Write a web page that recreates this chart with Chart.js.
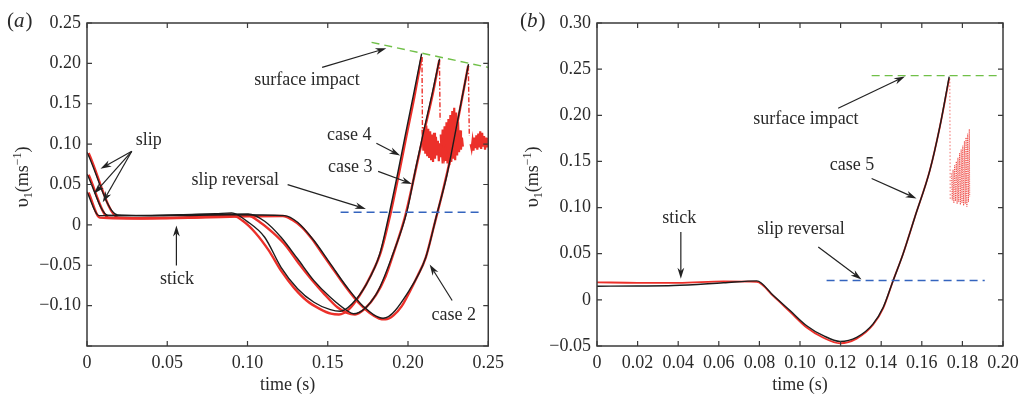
<!DOCTYPE html>
<html>
<head>
<meta charset="utf-8">
<script src="https://cdn.jsdelivr.net/npm/chart.js@4.4.1/dist/chart.umd.min.js"></script>
<style>
  body { margin: 0; background: #fff; }
  #wrap { position: relative; width: 1027px; height: 399px; }
  canvas { position: absolute; top: 0; }
  #chart-a { left: 0; }
  #chart-b { left: 510px; }
</style>
</head>
<body>
<div id="wrap">
  <canvas id="chart-a" width="510" height="399"></canvas>
  <canvas id="chart-b" width="517" height="399"></canvas>
</div>
<script>
// ---- panel (a): model (black) and measurement (red) for cases 2, 3, 4
let case4T = [0, 0.0074, 0.03, 0.06, 0.08, 0.0902, 0.1, 0.1107, 0.1209, 0.1312, 0.1414, 0.1516, 0.1578, 0.165, 0.1742, 0.1824, 0.1885, 0.1935, 0.1985, 0.2035, 0.2085];
let case4V = [0.041, 0.0115, 0.0115, 0.0125, 0.0138, 0.0149, 0.004, -0.0153, -0.0525, -0.079, -0.0958, -0.105, -0.107, -0.098, -0.073, -0.036, 0.0156, 0.063, 0.113, 0.162, 0.212];
let case3T = [0, 0.013, 0.04, 0.07, 0.1004, 0.1107, 0.1209, 0.1312, 0.1414, 0.1516, 0.1619, 0.166, 0.1803, 0.1906, 0.1995, 0.205, 0.21, 0.215, 0.2197];
let case3V = [0.063, 0.012, 0.0115, 0.0128, 0.0135, 0.0045, -0.0153, -0.042, -0.069, -0.0896, -0.106, -0.11, -0.0854, -0.036, 0.018, 0.072, 0.118, 0.162, 0.206];
let case2T = [0, 0.019, 0.05, 0.09, 0.123, 0.1312, 0.1414, 0.1516, 0.1619, 0.1722, 0.1845, 0.2008, 0.2111, 0.2183, 0.2244, 0.231, 0.2377];
let case2V = [0.09, 0.0124, 0.0115, 0.0125, 0.0115, 0.0032, -0.0194, -0.048, -0.077, -0.101, -0.1156, -0.081, -0.04, 0.0156, 0.063, 0.13, 0.199];

let red4T = [0.001, 0.008, 0.02, 0.04, 0.06, 0.08, 0.089, 0.097, 0.105, 0.113, 0.121, 0.129, 0.137, 0.145, 0.152, 0.157, 0.163, 0.17, 0.177, 0.183, 0.189, 0.194, 0.199, 0.204, 0.2085];
let red4V = [0.04, 0.009, 0.008, 0.0085, 0.009, 0.011, 0.013, 0.005, -0.01, -0.031, -0.057, -0.078, -0.094, -0.104, -0.11, -0.111, -0.105, -0.087, -0.062, -0.034, 0.013, 0.06, 0.11, 0.159, 0.208];
let red3T = [0.001, 0.0135, 0.03, 0.06, 0.09, 0.1, 0.108, 0.116, 0.124, 0.132, 0.14, 0.148, 0.156, 0.162, 0.167, 0.173, 0.18, 0.186, 0.192, 0.198, 0.204, 0.21, 0.2155, 0.2195];
let red3V = [0.062, 0.009, 0.008, 0.009, 0.0115, 0.012, 0.003, -0.01, -0.026, -0.048, -0.068, -0.086, -0.102, -0.109, -0.111, -0.104, -0.087, -0.064, -0.029, 0.009, 0.061, 0.115, 0.163, 0.204];
let red2T = [0.001, 0.0195, 0.04, 0.07, 0.1, 0.122, 0.128, 0.134, 0.14, 0.146, 0.152, 0.158, 0.164, 0.17, 0.176, 0.182, 0.186, 0.191, 0.196, 0.201, 0.206, 0.211, 0.216, 0.221, 0.226, 0.232, 0.2375];
let red2V = [0.089, 0.009, 0.008, 0.009, 0.0105, 0.011, 0.006, -0.003, -0.017, -0.034, -0.051, -0.068, -0.084, -0.098, -0.109, -0.116, -0.117, -0.112, -0.101, -0.083, -0.063, -0.041, -0.003, 0.036, 0.079, 0.139, 0.197];

// after impact: drops and noisy bursts of the measurement
let drop4T = [0.2087, 0.209];
let drop4V = [0.208, 0.118];
let drop3T = [0.2196, 0.22];
let drop3V = [0.204, 0.13];
let drop2T = [0.2376, 0.2382];
let drop2V = [0.197, 0.11];
let burst4T = [0.209, 0.2096, 0.2102, 0.2108, 0.2114, 0.212, 0.2126, 0.2132, 0.2138, 0.2144, 0.215, 0.2156, 0.2162, 0.2168, 0.2174, 0.218, 0.2186, 0.2192, 0.2198, 0.2204, 0.221, 0.2216, 0.2222, 0.2228, 0.2234, 0.224];
let burst4V = [0.118, 0.092, 0.121, 0.088, 0.123, 0.085, 0.119, 0.083, 0.116, 0.08, 0.112, 0.078, 0.114, 0.082, 0.109, 0.086, 0.104, 0.079, 0.101, 0.084, 0.098, 0.076, 0.095, 0.085, 0.093, 0.088];
let burst3T = [0.2204, 0.221, 0.2216, 0.2222, 0.2228, 0.2234, 0.224, 0.2246, 0.2252, 0.2258, 0.2264, 0.227, 0.2276, 0.2282, 0.2288, 0.2294, 0.23, 0.2306, 0.2312, 0.2318, 0.2324, 0.233, 0.2336, 0.2342];
let burst3V = [0.112, 0.088, 0.118, 0.082, 0.122, 0.079, 0.127, 0.076, 0.131, 0.074, 0.136, 0.078, 0.141, 0.082, 0.145, 0.08, 0.139, 0.086, 0.128, 0.09, 0.117, 0.093, 0.108, 0.097];
let burst2T = [0.239, 0.2396, 0.2402, 0.2408, 0.2414, 0.242, 0.2426, 0.2432, 0.2438, 0.2444, 0.245, 0.2456, 0.2462, 0.2468, 0.2474, 0.248, 0.2486, 0.2492, 0.2498];
let burst2V = [0.1, 0.094, 0.104, 0.092, 0.108, 0.095, 0.111, 0.093, 0.113, 0.096, 0.116, 0.094, 0.114, 0.097, 0.11, 0.093, 0.108, 0.096, 0.105];

let impactAT = [0.1773, 0.25];
let impactAV = [0.226, 0.195];
let reversalAT = [0.158, 0.2463];
let reversalAV = [0.0156, 0.0156];

let xTicksA = [0, 0.05, 0.1, 0.15, 0.2, 0.25];
let xLabelsA = ['0', '0.05', '0.10', '0.15', '0.20', '0.25'];
let yTicksA = [-0.15, -0.1, -0.05, 0, 0.05, 0.1, 0.15, 0.2, 0.25];
let yLabelsA = ['', '\u22120.10', '\u22120.05', '0', '0.05', '0.10', '0.15', '0.20', '0.25'];

// ---- panel (b): case 5
let case5T = [0, 0.02, 0.0377, 0.0623, 0.0787, 0.0869, 0.0951, 0.1033, 0.1115, 0.1197, 0.1279, 0.136, 0.141, 0.1459, 0.1508, 0.1566, 0.164, 0.1689, 0.1735];
let case5V = [0.0148, 0.015, 0.0155, 0.0185, 0.0206, 0.0047, -0.0116, -0.028, -0.0388, -0.045, -0.0406, -0.026, -0.008, 0.021, 0.05, 0.0898, 0.1406, 0.1876, 0.242];
let red5T = [0, 0.02, 0.04, 0.0623, 0.0787, 0.0869, 0.0951, 0.1033, 0.1115, 0.1197, 0.1279, 0.136, 0.141, 0.1459, 0.1508, 0.1566, 0.164, 0.1689, 0.1735];
let red5V = [0.019, 0.0185, 0.0185, 0.02, 0.0195, 0.004, -0.013, -0.03, -0.041, -0.047, -0.042, -0.027, -0.009, 0.021, 0.05, 0.0898, 0.1406, 0.1876, 0.24];
let drop5T = [0.1738, 0.174];
let drop5V = [0.24, 0.108];
let burst5T = [0.1746, 0.175, 0.1754, 0.1758, 0.1762, 0.1766, 0.177, 0.1774, 0.1778, 0.1782, 0.1786, 0.179, 0.1794, 0.1798, 0.1802, 0.1806, 0.181, 0.1814, 0.1818, 0.1822, 0.1826, 0.183, 0.1834, 0.1836];
let burst5V = [0.137, 0.108, 0.141, 0.105, 0.146, 0.107, 0.15, 0.104, 0.154, 0.106, 0.159, 0.103, 0.163, 0.105, 0.167, 0.102, 0.172, 0.104, 0.176, 0.101, 0.18, 0.106, 0.185, 0.112];

let impactBT = [0.1353, 0.1976];
let impactBV = [0.243, 0.243];
let reversalBT = [0.1131, 0.191];
let reversalBV = [0.021, 0.021];

let xTicksB = [0, 0.02, 0.04, 0.06, 0.08, 0.1, 0.12, 0.14, 0.16, 0.18, 0.2];
let xLabelsB = ['0', '0.02', '0.04', '0.06', '0.08', '0.10', '0.12', '0.14', '0.16', '0.18', '0.20'];
let yTicksB = [-0.05, 0, 0.05, 0.1, 0.15, 0.2, 0.25, 0.3];
let yLabelsB = ['\u22120.05', '0', '0.05', '0.10', '0.15', '0.20', '0.25', '0.30'];

// annotations: [text, t, v] and arrows [fromT, fromV, toT, toV]
let notesA = [['slip', 0.0385, 0.1043], ['surface impact', 0.1371, 0.1786], ['case 4', 0.1634, 0.1114],
  ['case 3', 0.164, 0.0713], ['slip reversal', 0.0924, 0.0557], ['stick', 0.0561, -0.0668], ['case 2', 0.2285, -0.1114]];
let arrowsA = [[0.0279, 0.0911, 0.0084, 0.0694], [0.0279, 0.0911, 0.0043, 0.0384], [0.0279, 0.0911, 0.0098, 0.028],
  [0.1465, 0.195, 0.1865, 0.2186], [0.1803, 0.101, 0.1951, 0.0858], [0.1814, 0.0663, 0.2025, 0.0507],
  [0.125, 0.0499, 0.1738, 0.0198], [0.0557, -0.0504, 0.0557, -0.0009], [0.2275, -0.0937, 0.2135, -0.0491]];
let notesB = [['surface impact', 0.1029, 0.1957], ['case 5', 0.1256, 0.146], ['stick', 0.0405, 0.088], ['slip reversal', 0.1005, 0.0761]];
let arrowsB = [[0.1188, 0.2076, 0.1517, 0.242], [0.1353, 0.1315, 0.1574, 0.1098], [0.0413, 0.0735, 0.0413, 0.0228], [0.109, 0.0572, 0.1303, 0.0221]];

const SERIF = '"Liberation Serif", "Times New Roman", serif';
const RED = 'rgb(236, 48, 42)';
Chart.defaults.font.family = SERIF;
Chart.defaults.font.size = 18;
Chart.defaults.color = '#2a2a2a';

function pts(ts, vs) {
    return ts.map((t, i) => ({ x: t, y: vs[i] }));
}
function model(ts, vs) {
    return { data: pts(ts, vs), borderColor: '#1c1c1c', borderWidth: 1.4, cubicInterpolationMode: 'monotone', order: 1 };
}
function measured(ts, vs, w) {
    return { data: pts(ts, vs), borderColor: RED, borderWidth: w, cubicInterpolationMode: 'monotone', order: 2 };
}
function noisy(ts, vs, w, dash, color) {
    return { data: pts(ts, vs), borderColor: color || RED, borderWidth: w, borderDash: dash, tension: 0, order: 2 };
}
function guide(ts, vs, color) {
    return { data: pts(ts, vs), borderColor: color, borderWidth: 1.4, borderDash: [8, 5], tension: 0, order: 0 };
}

function arrow(ctx, x0, y0, x1, y1) {
    const a = Math.atan2(y1 - y0, x1 - x0), L = 11, W = 3.4;
    ctx.beginPath();
    ctx.moveTo(x0, y0);
    ctx.lineTo(x1 - L * 0.7 * Math.cos(a), y1 - L * 0.7 * Math.sin(a));
    ctx.stroke();
    ctx.save();
    ctx.translate(x1, y1);
    ctx.rotate(a);
    ctx.beginPath();
    ctx.moveTo(0, 0);
    ctx.lineTo(-L, -W);
    ctx.lineTo(-L * 0.7, 0);
    ctx.lineTo(-L, W);
    ctx.closePath();
    ctx.fill();
    ctx.restore();
}

// frame with inward ticks, y title with sub/superscript, panel letter and annotations
function framePlugin(cfg) {
    return {
        id: 'frame',
        afterDraw(chart) {
            const ctx = chart.ctx, area = chart.chartArea;
            const xs = chart.scales.x, ys = chart.scales.y;
            ctx.save();
            ctx.strokeStyle = '#3a3a3a';
            ctx.lineWidth = 1.5;
            ctx.strokeRect(area.left, area.top, area.right - area.left, area.bottom - area.top);
            ctx.lineWidth = 1.2;
            ctx.beginPath();
            cfg.xTicks.forEach(v => {
                const px = xs.getPixelForValue(v);
                ctx.moveTo(px, area.bottom); ctx.lineTo(px, area.bottom - 5);
                ctx.moveTo(px, area.top); ctx.lineTo(px, area.top + 5);
            });
            cfg.yTicks.forEach(v => {
                const py = ys.getPixelForValue(v);
                ctx.moveTo(area.left, py); ctx.lineTo(area.left + 5, py);
                ctx.moveTo(area.right, py); ctx.lineTo(area.right - 5, py);
            });
            ctx.stroke();

            // y axis title: v_1 (m s^-1)
            ctx.fillStyle = '#2a2a2a';
            ctx.translate(22, 177);
            ctx.rotate(-Math.PI / 2);
            const parts = [['\u03c5', 19, 0], ['1', 12, 4], ['(ms', 18, 0], ['\u22121', 12, -7], [')', 18, 0]];
            let total = 0;
            parts.forEach(p => { ctx.font = p[1] + 'px ' + SERIF; total += ctx.measureText(p[0]).width; });
            let cx = -total / 2;
            ctx.textBaseline = 'alphabetic';
            parts.forEach(p => {
                ctx.font = p[1] + 'px ' + SERIF;
                ctx.fillText(p[0], cx, 6 + p[2]);
                cx += ctx.measureText(p[0]).width;
            });
            ctx.restore();

            // panel letter
            ctx.save();
            ctx.fillStyle = '#2a2a2a';
            ctx.textBaseline = 'alphabetic';
            let lx = cfg.labelX;
            ctx.font = '21px ' + SERIF;
            ctx.fillText('(', lx, 27); lx += ctx.measureText('(').width;
            ctx.font = 'italic 21px ' + SERIF;
            ctx.fillText(cfg.label, lx, 27); lx += ctx.measureText(cfg.label).width + 1;
            ctx.font = '21px ' + SERIF;
            ctx.fillText(')', lx, 27);

            // annotations
            ctx.font = '18px ' + SERIF;
            ctx.textAlign = 'center';
            ctx.textBaseline = 'middle';
            cfg.notes.forEach(n => ctx.fillText(n[0], xs.getPixelForValue(n[1]), ys.getPixelForValue(n[2])));
            ctx.strokeStyle = '#222';
            ctx.fillStyle = '#222';
            ctx.lineWidth = 1.2;
            cfg.arrows.forEach(a => arrow(ctx, xs.getPixelForValue(a[0]), ys.getPixelForValue(a[1]),
                xs.getPixelForValue(a[2]), ys.getPixelForValue(a[3])));
            ctx.restore();
        }
    };
}

function axes(xMin, xMax, xTicks, xLabels, yMin, yMax, yTicks, yLabels) {
    return {
        x: {
            type: 'linear', min: xMin, max: xMax,
            grid: { display: false, drawTicks: false },
            border: { display: false },
            afterBuildTicks: s => { s.ticks = xTicks.map(v => ({ value: v })); },
            afterFit: s => { s.height = 53; },
            ticks: { autoSkip: false, maxRotation: 0, padding: 6, callback: (v, i) => xLabels[i] },
            title: { display: true, text: 'time (s)', font: { size: 18 }, padding: { top: 0, bottom: 3 } }
        },
        y: {
            type: 'linear', min: yMin, max: yMax,
            grid: { display: false, drawTicks: false },
            border: { display: false },
            afterBuildTicks: s => { s.ticks = yTicks.map(v => ({ value: v })); },
            afterFit: s => { s.width = 87; },
            ticks: { autoSkip: false, padding: 6, callback: (v, i) => yLabels[i] }
        }
    };
}

const common = {
    responsive: false,
    animation: false,
    events: [],
    elements: { point: { radius: 0 } },
    plugins: { legend: { display: false }, tooltip: { enabled: false } }
};

var chartA = new Chart(document.getElementById('chart-a'), {
    type: 'line',
    data: {
        datasets: [
            guide(impactAT, impactAV, 'rgb(112, 192, 72)'),
            guide(reversalAT, reversalAV, 'rgb(52, 100, 190)'),
            model(case4T, case4V),
            model(case3T, case3V),
            model(case2T, case2V),
            measured(red4T, red4V, 2.4),
            measured(red3T, red3V, 2.4),
            measured(red2T, red2V, 2.4),
            noisy(drop4T, drop4V, 1.4, [5, 2, 1.5, 2]),
            noisy(drop3T, drop3V, 1.4, [5, 2, 1.5, 2]),
            noisy(drop2T, drop2V, 1.4, [5, 2, 1.5, 2]),
            noisy(burst4T, burst4V, 2.2, []),
            noisy(burst3T, burst3V, 2.2, []),
            noisy(burst2T, burst2V, 2.2, [])
        ]
    },
    options: Object.assign({}, common, {
        layout: { padding: { left: 0, right: 17, top: 23, bottom: 0 } },
        scales: axes(0, 0.25, xTicksA, xLabelsA, -0.15, 0.25, yTicksA, yLabelsA)
    }),
    plugins: [framePlugin({ xTicks: xTicksA, yTicks: yTicksA, label: 'a', labelX: 7, notes: notesA, arrows: arrowsA })]
});

var chartB = new Chart(document.getElementById('chart-b'), {
    type: 'line',
    data: {
        datasets: [
            guide(impactBT, impactBV, 'rgb(112, 192, 72)'),
            guide(reversalBT, reversalBV, 'rgb(52, 100, 190)'),
            model(case5T, case5V),
            measured(red5T, red5V, 1.8),
            noisy(drop5T, drop5V, 1, [1.5, 2], 'rgba(236, 48, 42, 0.7)'),
            noisy(burst5T, burst5V, 1, [1.2, 1], 'rgba(236, 48, 42, 0.75)')
        ]
    },
    options: Object.assign({}, common, {
        layout: { padding: { left: 0, right: 24, top: 23, bottom: 0 } },
        scales: axes(0, 0.2, xTicksB, xLabelsB, -0.05, 0.3, yTicksB, yLabelsB)
    }),
    plugins: [framePlugin({ xTicks: xTicksB, yTicks: yTicksB, label: 'b', labelX: 10, notes: notesB, arrows: arrowsB })]
});
</script>
</body>
</html>
